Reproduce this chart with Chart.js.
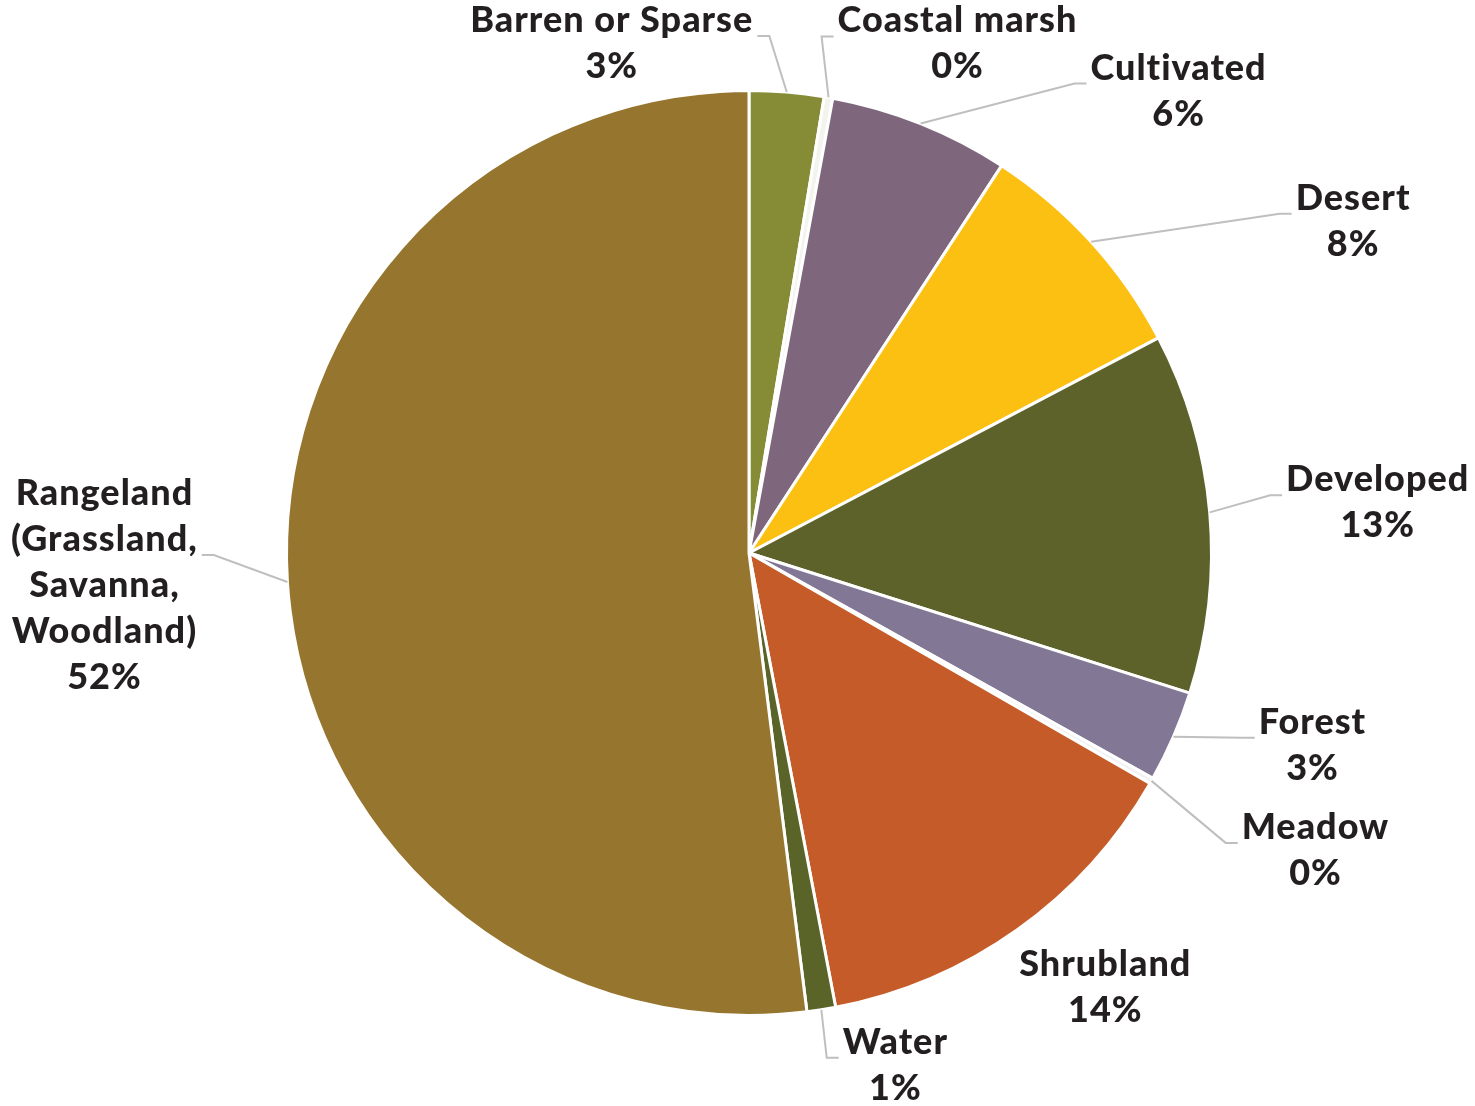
<!DOCTYPE html>
<html>
<head>
<meta charset="utf-8">
<script src="https://cdn.jsdelivr.net/npm/chart.js@4/dist/chart.umd.min.js"></script>
<style>
  html, body { margin: 0; padding: 0; background: #fff; }
  #wrap { width: 1475px; height: 1106px; }
</style>
</head>
<body>
<div id="wrap"><canvas id="landChart" width="1475" height="1106"></canvas></div>
<script>
// land cover categories (multi-line names as arrays)
var categories = [
  ["Barren or Sparse"],
  ["Coastal marsh"],
  ["Cultivated"],
  ["Desert"],
  ["Developed"],
  ["Forest"],
  ["Meadow"],
  ["Shrubland"],
  ["Water"],
  ["Rangeland", "(Grassland,", "Savanna,", "Woodland)"]
];
// share of area, percent
var shares = [2.6, 0.3, 6.3, 8.1, 12.6, 3.2, 0.2, 13.7, 1.0, 52.0];
var sliceColors = [
  "#868B36", "#F4F4EE", "#7E667C", "#FBC012", "#5D622B",
  "#827795", "#F2F1F4", "#C55B28", "#5B6428", "#96752E"
];

// label placement relative to the slice's outer mid point (px)
var labelOffsets = [
  [-175, -60], [129, -65], [258, -44], [262, -32], [168, -21],
  [139, -3], [164, 58], [88, 46], [74, 44], [-183, -77]
];
var leaderLine = [0, 0, 0, 0, 0, 0, 0, 0, 0, 1];
var showLeader = [true, true, true, true, true, true, true, false, true, true];

var total = shares.reduce(function (a, b) { return a + b; }, 0);

var outerLabels = {
  id: "outerLabels",
  afterDraw: function (chart) {
    var ctx = chart.ctx;
    var arcs = chart.getDatasetMeta(0).data;
    var lineH = 46;
    ctx.save();
    ctx.font = "900 36px Lato";
    ctx.letterSpacing = "1px";
    ctx.textBaseline = "alphabetic";
    ctx.textAlign = "center";
    arcs.forEach(function (arc, i) {
      var p = arc.getProps(["x", "y", "startAngle", "endAngle", "outerRadius"], true);
      var mid = (p.startAngle + p.endAngle) / 2;
      var bx = p.x + Math.cos(mid) * p.outerRadius;
      var by = p.y + Math.sin(mid) * p.outerRadius;
      var lx = bx + labelOffsets[i][0];
      var ly = by + labelOffsets[i][1];
      var lines = categories[i].concat([Math.round(shares[i] / total * 100) + "%"]);

      if (showLeader[i]) {
        var k = leaderLine[i];
        var w = ctx.measureText(lines[k]).width;
        var yy = ly + k * lineH + 4;
        var edge, elbow, end;
        if (labelOffsets[i][0] < 0) {
          edge = lx + w / 2;
          end = edge + 4; elbow = edge + 16;
        } else {
          edge = lx - w / 2;
          end = edge - 4; elbow = edge - 16;
        }
        ctx.strokeStyle = "#BFBFBF";
        ctx.lineWidth = 2;
        ctx.beginPath();
        ctx.moveTo(bx, by);
        ctx.lineTo(elbow, yy);
        ctx.lineTo(end, yy);
        ctx.stroke();
      }

      ctx.fillStyle = "#231F20";
      lines.forEach(function (t, j) {
        ctx.fillText(t, lx, ly + j * lineH);
      });
    });
    ctx.restore();
  }
};

new Chart("landChart", {
  type: "pie",
  data: {
    labels: categories,
    datasets: [
      {
        data: shares,
        backgroundColor: sliceColors,
        borderColor: "#ffffff",
        borderWidth: 3
      }
    ]
  },
  options: {
    responsive: false,
    animation: false,
    devicePixelRatio: 1,
    layout: {
      padding: { top: 89, bottom: 89, left: 285, right: 262 }
    },
    plugins: {
      legend: { display: false },
      tooltip: { enabled: false }
    }
  },
  plugins: [outerLabels]
});
</script>
</body>
</html>
